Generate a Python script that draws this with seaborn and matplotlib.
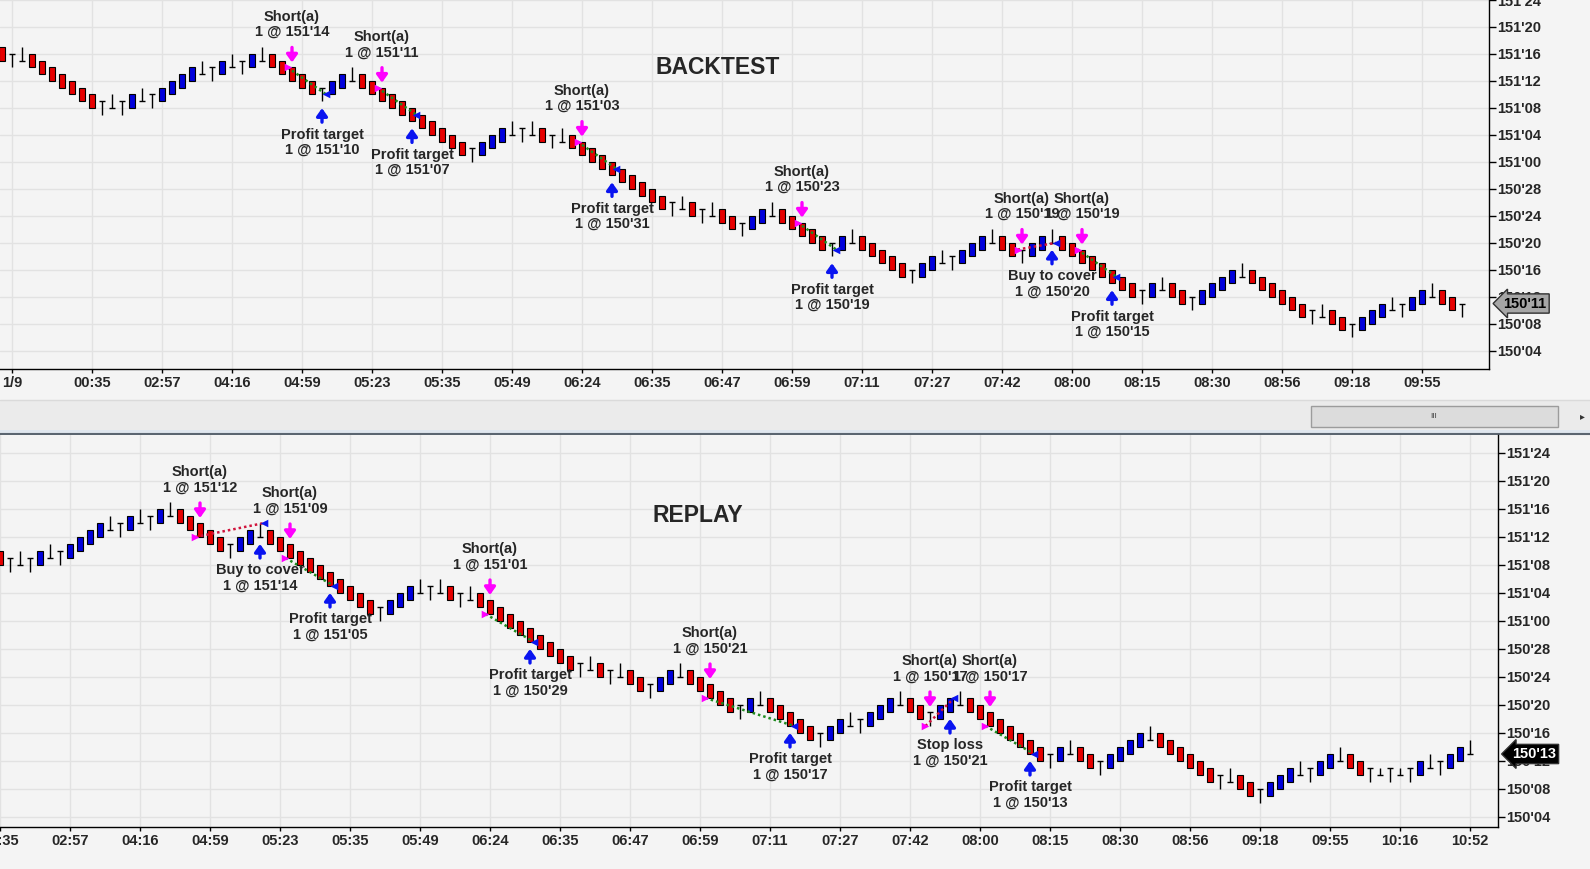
import matplotlib
matplotlib.use("Agg")
import matplotlib.pyplot as plt
import matplotlib.transforms as mtrans
from matplotlib.patches import Rectangle
import numpy as np
import pandas as pd
import seaborn as sns

# === 1. Bar data: prices in 32nds above 150'00, bricks are 2 ticks tall ===
BRICK = 2
# r = red brick, b = blue brick, T = doji wick down, L = doji wick up, l = doji short wick up
top_kind = ("rTLrrrrrrr" "TLTbLTbbbb" "LTbLTbLrrr" "rrTbbLrrrr" "rrrrrrrTbb"
            "bLTLrTLrrr" "rrrrrrrTLr" "TLrrTbbLrr" "rrrTbLrrrr" "rTbbLTbbbL"
            "rrTbbLrrrr" "rrrrTbLrrT" "bbbbLrrrrr" "rTLrrTbbbL" "TbbLrrT")
top_close = [47, 48, 47, 46, 45, 44, 43, 42, 41, 40,
             41, 40, 41, 42, 41, 42, 43, 44, 45, 46,
             45, 46, 47, 46, 47, 48, 47, 46, 45, 44,
             43, 42, 43, 44, 45, 44, 43, 42, 41, 40,
             39, 38, 37, 36, 35, 34, 33, 34, 35, 36,
             37, 36, 37, 36, 35, 36, 35, 34, 33, 32,
             31, 30, 29, 28, 27, 26, 25, 26, 25, 24,
             25, 24, 23, 22, 23, 24, 25, 24, 23, 22,
             21, 20, 19, 20, 21, 20, 19, 18, 17, 16,
             15, 16, 17, 18, 17, 18, 19, 20, 21, 20,
             19, 18, 19, 20, 21, 20, 19, 18, 17, 16,
             15, 14, 13, 12, 13, 14, 13, 12, 11, 12,
             13, 14, 15, 16, 15, 14, 13, 12, 11, 10,
             9, 10, 9, 8, 7, 8, 9, 10, 11, 10,
             11, 12, 13, 12, 11, 10, 11]

bot_kind = ("rTLTbLTbbb" "bLTbLTbLrr" "rrrTbbLrrr" "rrrrrrrrTb" "bbLTLrTLrr"
            "rrrrrrrrTL" "rTLrrTbbLr" "rrrrTbLrrr" "rrTbbLTbbb" "LrrTbbLrrr"
            "rrrrrTbLrr" "TbbbbLrrrr" "rrTLrrTbbb" "LTbbLrrTlT" "lTbLTbbL")
bot_close = [40, 41, 40, 41, 42, 41, 42, 43, 44, 45,
             46, 45, 46, 47, 46, 47, 48, 47, 46, 45,
             44, 43, 42, 43, 44, 45, 44, 43, 42, 41,
             40, 39, 38, 37, 36, 35, 34, 33, 34, 35,
             36, 37, 36, 37, 36, 35, 36, 35, 34, 33,
             32, 31, 30, 29, 28, 27, 26, 25, 26, 25,
             24, 25, 24, 23, 22, 23, 24, 25, 24, 23,
             22, 21, 20, 19, 20, 21, 20, 19, 18, 17,
             16, 15, 16, 17, 18, 17, 18, 19, 20, 21,
             20, 19, 18, 19, 20, 21, 20, 19, 18, 17,
             16, 15, 14, 13, 12, 13, 14, 13, 12, 11,
             12, 13, 14, 15, 16, 15, 14, 13, 12, 11,
             10, 9, 10, 9, 8, 7, 8, 9, 10, 11,
             10, 11, 12, 13, 12, 11, 10, 11, 10, 11,
             10, 11, 12, 11, 12, 13, 14, 13]

# === 2. Trade signals ===
top_sig_bar = [29, 32, 38, 41, 58, 61, 80, 83, 102, 105, 108, 111]
top_sig_name = ["Short(a)", "Profit target", "Short(a)", "Profit target", "Short(a)", "Profit target",
                "Short(a)", "Profit target", "Short(a)", "Buy to cover", "Short(a)", "Profit target"]
top_sig_price = [46, 42, 43, 39, 35, 31, 23, 19, 19, 20, 19, 15]

bot_sig_bar = [20, 26, 29, 33, 49, 53, 71, 79, 93, 95, 99, 103]
bot_sig_name = ["Short(a)", "Buy to cover", "Short(a)", "Profit target", "Short(a)", "Profit target",
                "Short(a)", "Profit target", "Short(a)", "Stop loss", "Short(a)", "Profit target"]
bot_sig_price = [44, 46, 41, 37, 33, 29, 21, 17, 17, 21, 17, 13]

# === 3. Time axis labels ===
top_time = ["1/9", "00:35", "02:57", "04:16", "04:59", "05:23", "05:35", "05:49", "06:24", "06:35",
            "06:47", "06:59", "07:11", "07:27", "07:42", "08:00", "08:15", "08:30", "08:56", "09:18", "09:55"]
bot_time = ["00:35", "02:57", "04:16", "04:59", "05:23", "05:35", "05:49", "06:24", "06:35", "06:47",
            "06:59", "07:11", "07:27", "07:42", "08:00", "08:15", "08:30", "08:56", "09:18", "09:55",
            "10:16", "10:52"]

RED = "#e60000"
BLUE = "#0000dc"
MAGENTA = "#ff00ff"
ARROW_BLUE = "#0a14f0"
BG = "#f4f4f4"
FS = 10.5


def fmt(p):
    return f"{150 + p // 32}'{p % 32:02d}"


sns.set_style("white", rc={"axes.facecolor": BG, "figure.facecolor": BG})
plt.rcParams["font.family"] = ["Liberation Sans", "DejaVu Sans"]

W, H = 1590, 869
fig = plt.figure(figsize=(W / 100, H / 100), dpi=100)

# background strip between the panels (scrollbar)
ax_bg = fig.add_axes([0, 0, 1, 1], zorder=-1)
ax_bg.set_xlim(0, W)
ax_bg.set_ylim(H, 0)
ax_bg.axis("off")
ax_bg.add_patch(Rectangle((0, 400), W, 30, fc="#ebebeb", ec="none"))
ax_bg.plot([0, W], [400, 400], color="#dadada", lw=1)
ax_bg.add_patch(Rectangle((0, 430), W, 4, fc="#dfe6ee", ec="none"))
ax_bg.plot([0, W], [434, 434], color="#5b6570", lw=1.5)
ax_bg.add_patch(Rectangle((1311, 406), 247, 21, fc="#dcdcdc", ec="#9c9c9c", lw=1))
ax_bg.text(1434, 416, "III", fontsize=6, color="#444444", ha="center", va="center")
ax_bg.text(1582, 416, "\u25b8", fontsize=7, color="#333333", ha="center", va="center",
           family="DejaVu Sans")


def draw_panel(ax, kinds, closes, sig_bar, sig_name, sig_price, xpos, xlabels, last_fc, last_tc):
    df = pd.DataFrame({"kind": list(kinds), "close": closes})
    df["bar"] = np.arange(len(df))
    lo = {"r": 0, "b": -BRICK, "T": -BRICK, "L": 0, "l": 0}
    hi = {"r": BRICK, "b": 0, "T": 0, "L": BRICK, "l": 1}
    df["low"] = df["close"] + df["kind"].map(lo)
    df["high"] = df["close"] + df["kind"].map(hi)

    bodies = df[df["kind"].isin(["r", "b"])]
    ax.bar(bodies["bar"], BRICK, bottom=bodies["low"], width=0.68,
           color=bodies["kind"].map({"r": RED, "b": BLUE}), edgecolor="black",
           linewidth=0.8, zorder=3)
    doji = df[~df["kind"].isin(["r", "b"])]
    ax.hlines(doji["close"], doji["bar"] - 0.33, doji["bar"] + 0.33, color="black", lw=1, zorder=3)
    ax.vlines(doji["bar"], doji["low"], doji["high"], color="black", lw=1, zorder=3)

    sig = pd.DataFrame({"bar": sig_bar, "name": sig_name, "price": sig_price})
    sig["entry"] = sig["name"].str.startswith("Short")
    sig["x"] = np.where(sig["entry"], sig["bar"] - 0.45, sig["bar"] + 0.42)

    # trade lines entry -> exit
    for k in range(0, len(sig), 2):
        a, b = sig.iloc[k], sig.iloc[k + 1]
        col = "#1f8a1f" if b["name"] == "Profit target" else "#d0143c"
        ax.plot([a["x"], b["x"]], [a["price"], b["price"]], color=col, lw=1.8,
                linestyle=(0, (1, 1.2)), zorder=4)

    ent = sig[sig["entry"]]
    ext = sig[~sig["entry"]]
    sns.scatterplot(x=ent["x"], y=ent["price"], marker=">", s=30, color=MAGENTA,
                    linewidth=0, ax=ax, zorder=5)
    sns.scatterplot(x=ext["x"], y=ext["price"], marker="<", s=30, color=ARROW_BLUE,
                    linewidth=0, ax=ax, zorder=5)

    for _, s in sig.iterrows():
        bar = df.iloc[int(s["bar"])]
        if s["entry"]:
            y0, tip, tail, txt, col = bar["high"], 5, 20, 43, MAGENTA
        else:
            y0, tip, tail, txt, col = bar["low"], -7, -21, -41, ARROW_BLUE
        t_tip = mtrans.offset_copy(ax.transData, x=0, y=tip, units="dots")
        t_tail = mtrans.offset_copy(ax.transData, x=0, y=tail, units="dots")
        ax.annotate("", xy=(s["bar"], y0), xycoords=t_tip, xytext=(s["bar"], y0), textcoords=t_tail,
                    arrowprops=dict(arrowstyle="-|>,head_width=0.32,head_length=0.45", color=col,
                                    lw=2.4, shrinkA=0, shrinkB=0, mutation_scale=10),
                    zorder=6, annotation_clip=False)
        ax.annotate(f"{s['name']}\n1 @ {fmt(int(s['price']))}", xy=(s["bar"], y0),
                    xytext=(0, txt), textcoords="offset pixels", ha="center", va="center",
                    fontsize=FS, fontweight="bold", linespacing=1.1, zorder=7,
                    annotation_clip=False)

    # axes
    ax.set_xticks(xpos)
    ax.set_xticklabels(xlabels, fontsize=FS, fontweight="bold")
    yt = list(range(4, 57, 4))
    ax.set_yticks(yt)
    ax.set_yticklabels([fmt(v) for v in yt], fontsize=FS, fontweight="bold")
    ax.yaxis.tick_right()
    ax.tick_params(axis="y", length=5, width=1, pad=1, color="black", right=True, left=False)
    ax.tick_params(axis="x", length=3, width=1, pad=2, color="black", bottom=True)
    ax.grid(True, color="#e2e2e2", lw=1)
    ax.set_axisbelow(True)
    for side in ["top", "left"]:
        ax.spines[side].set_visible(False)
    for side in ["right", "bottom"]:
        ax.spines[side].set_color("black")
        ax.spines[side].set_linewidth(1)
    ax.set_xlabel("")
    ax.set_ylabel("")

    last = df.iloc[-1]
    ax.annotate(fmt(int(last["close"])), xy=(1, last["close"]), xycoords=ax.get_yaxis_transform(),
                xytext=(36, 0), textcoords="offset pixels", ha="center", va="center",
                fontsize=FS, fontweight="bold", color=last_tc, zorder=8, annotation_clip=False,
                bbox=dict(boxstyle="larrow,pad=0.18", fc=last_fc, ec="#303030", lw=1))


# top panel: x pixel = 2 + 10 * bar, right edge 1489, bottom 369
ax_top = fig.add_axes([0, 1 - 369 / H, 1489 / W, 369 / H])
draw_panel(ax_top, top_kind, top_close, top_sig_bar, top_sig_name, top_sig_price,
           [1] + list(range(9, 143, 7)), top_time, "#a6a6a6", "black")
ax_top.set_xlim(-0.2, 148.7)
ax_top.set_ylim(1.29, 56.0)

# bottom panel: x pixel = 10 * bar, right edge 1498, from 435 to 827
ax_bot = fig.add_axes([0, 1 - 827 / H, 1498 / W, (827 - 435) / H])
draw_panel(ax_bot, bot_kind, bot_close, bot_sig_bar, bot_sig_name, bot_sig_price,
           list(range(0, 148, 7)), bot_time, "black", "white")
ax_bot.set_xlim(0, 149.8)
ax_bot.set_ylim(2.57, 58.57)

fig.text(718 / W, 1 - 67 / H, "BACKTEST", fontsize=16.5, fontweight="bold", ha="center", va="center")
fig.text(698 / W, 1 - 516 / H, "REPLAY", fontsize=16.5, fontweight="bold", ha="center", va="center")

fig.savefig("out.png", dpi=100, facecolor=BG)
